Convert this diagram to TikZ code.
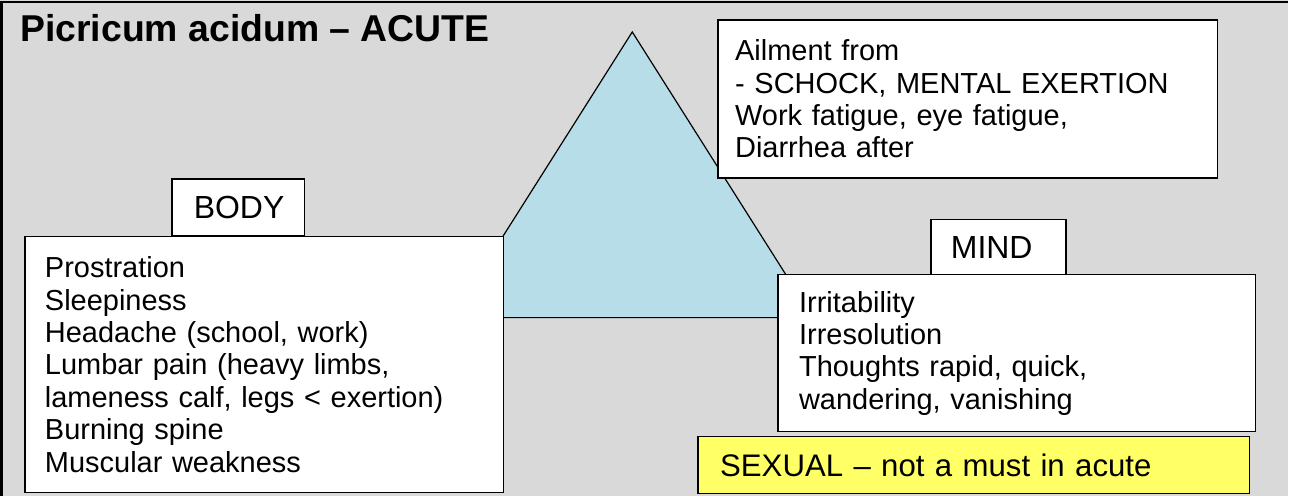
\documentclass[tikz,border=0pt]{standalone}
\usepackage{fontspec}
\setmainfont{Liberation Sans}
\usepackage{xcolor}
\definecolor{PanelGrey}{HTML}{D9D9D9}
\definecolor{PeakBlue}{HTML}{B7DDE8}
\definecolor{NoteYellow}{HTML}{FFFF66}
\usepackage{tikz}
\usetikzlibrary{positioning}
\newcommand\Px{0.5pt}
\newcommand\TextFont{\fontsize{14.5}{16.2}\selectfont}
\newcommand\TabFont{\fontsize{16}{18}\selectfont}
\newcommand\TitleFont{\fontsize{18.7}{22}\selectfont\bfseries}
\tikzstyle{card}=[rectangle,draw=black,fill=white,line width=0.75pt,
                     font=\TextFont,align=left,inner xsep=10pt,inner ysep=0pt]
\tikzstyle{tab}=[rectangle,draw=black,fill=white,line width=0.75pt,
                     font=\TabFont,align=left,inner ysep=0pt]
\tikzstyle{peak}=[draw=black,fill=PeakBlue,line width=0.6pt,line join=miter]

\begin{document}
\begin{tikzpicture}[x=\Px,y=-\Px]
      \fill[PanelGrey] (0,0) rectangle (1289,497);
      \draw[line width=1.5pt] (2,497) -- (2,2) -- (1289,2);
      \node[anchor=base west,font=\TitleFont,inner sep=0pt] (title) at (20,42) {Picricum acidum – ACUTE};
      \draw[peak] (452,318) -- (633,32) -- (814,318) -- cycle;
      \node[card,inner xsep=8.5pt,minimum width=500*\Px,minimum height=158*\Px,text width=233pt] (ailment) at (969,99) {Ailment from\\- SCHOCK, MENTAL EXERTION\\Work fatigue, eye fatigue,\\Diarrhea after};
      \node[tab,inner xsep=11pt,minimum width=133*\Px,minimum height=57*\Px,text width=44.5pt] (bodytab) at (238.5,207.5) {BODY};
      \node[card,minimum width=479*\Px,minimum height=256*\Px,text width=219.5pt] (body) at (264.5,365) {Prostration\\Sleepiness\\Headache (school, work)\\Lumbar pain (heavy limbs,\\lameness calf, legs < exertion)\\Burning spine\\Muscular weakness};
      \node[tab,inner xsep=10pt,minimum width=135*\Px,minimum height=55*\Px,text width=47.5pt] (mindtab) at (999.5,247.5) {MIND};
      \node[card,inner xsep=10.5pt,minimum width=478*\Px,minimum height=157*\Px,text width=218pt] (mind) at (1018,353.5) {Irritability\\Irresolution\\Thoughts rapid, quick,\\wandering, vanishing};
      \node[card,fill=NoteYellow,inner xsep=11pt,minimum width=552*\Px,minimum height=57*\Px,text width=254pt,font=\fontsize{15.6}{18}\selectfont] (sexual) at (975,465.5) {SEXUAL – not a must in acute};
   \end{tikzpicture}
\end{document}
